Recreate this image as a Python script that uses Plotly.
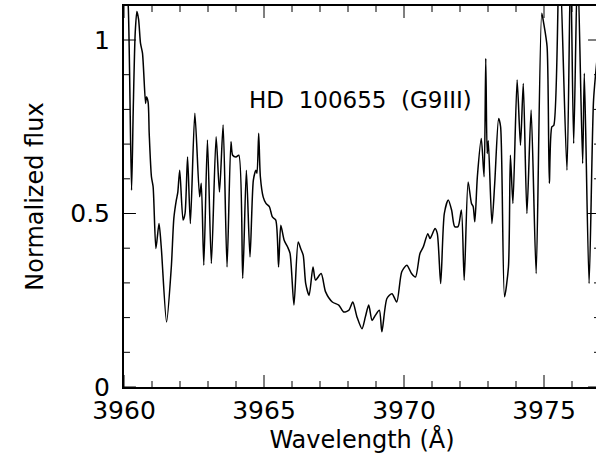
import plotly.graph_objects as go

wavelength = [
    3960.00, 3960.08, 3960.15, 3960.27, 3960.33, 3960.40, 3960.46, 3960.52, 3960.59, 3960.66,
    3960.77, 3960.80, 3960.86, 3960.90, 3960.98, 3961.04, 3961.14, 3961.25, 3961.33, 3961.52,
    3961.69, 3961.78, 3961.87, 3961.92, 3961.99, 3962.11, 3962.18, 3962.27, 3962.37, 3962.53,
    3962.70, 3962.76, 3962.85, 3962.98, 3963.12, 3963.29, 3963.41, 3963.54, 3963.68, 3963.82,
    3963.88, 3964.00, 3964.10, 3964.24, 3964.37, 3964.50, 3964.62, 3964.71, 3964.75, 3964.81,
    3964.87, 3964.97, 3965.07, 3965.19, 3965.30, 3965.42, 3965.52, 3965.60, 3965.72, 3965.84,
    3965.93, 3966.07, 3966.22, 3966.31, 3966.40, 3966.49, 3966.61, 3966.75, 3966.84, 3967.04,
    3967.20, 3967.44, 3967.67, 3967.85, 3968.03, 3968.17, 3968.32, 3968.50, 3968.62, 3968.74,
    3968.86, 3968.98, 3969.12, 3969.21, 3969.39, 3969.57, 3969.74, 3969.92, 3970.10, 3970.27,
    3970.41, 3970.57, 3970.69, 3970.85, 3970.93, 3971.11, 3971.19, 3971.31, 3971.44, 3971.58,
    3971.70, 3971.81, 3971.93, 3972.05, 3972.15, 3972.29, 3972.41, 3972.47, 3972.53, 3972.62,
    3972.76, 3972.86, 3972.92, 3972.97, 3973.01, 3973.14, 3973.24, 3973.38, 3973.45, 3973.59,
    3973.73, 3973.80, 3973.89, 3974.04, 3974.16, 3974.26, 3974.39, 3974.54, 3974.72, 3974.92,
    3974.99, 3975.11, 3975.19, 3975.28, 3975.35, 3975.55, 3975.82, 3975.95, 3976.06, 3976.20,
    3976.38, 3976.44, 3976.61, 3976.77, 3976.90,
]
flux = [
    1.20, 1.16, 1.10, 0.567, 0.80, 1.02, 1.082, 1.06, 0.99, 0.962,
    0.817, 0.836, 0.822, 0.731, 0.606, 0.577, 0.399, 0.471, 0.404, 0.187,
    0.346, 0.486, 0.539, 0.56, 0.625, 0.481, 0.500, 0.663, 0.471, 0.789,
    0.548, 0.587, 0.351, 0.712, 0.356, 0.721, 0.562, 0.755, 0.346, 0.707,
    0.668, 0.663, 0.668, 0.313, 0.625, 0.375, 0.596, 0.625, 0.616, 0.731,
    0.606, 0.548, 0.529, 0.520, 0.490, 0.481, 0.346, 0.466, 0.423, 0.404,
    0.385, 0.236, 0.418, 0.399, 0.380, 0.298, 0.264, 0.346, 0.308, 0.327,
    0.274, 0.245, 0.236, 0.216, 0.221, 0.245, 0.202, 0.168, 0.202, 0.236,
    0.192, 0.207, 0.221, 0.159, 0.255, 0.269, 0.245, 0.332, 0.351, 0.327,
    0.317, 0.385, 0.404, 0.442, 0.428, 0.457, 0.442, 0.298, 0.500, 0.539,
    0.510, 0.462, 0.462, 0.510, 0.308, 0.591, 0.529, 0.520, 0.476, 0.606,
    0.716, 0.606, 0.947, 0.673, 0.710, 0.471, 0.587, 0.774, 0.750, 0.260,
    0.346, 0.668, 0.529, 0.885, 0.697, 0.875, 0.500, 0.798, 0.327, 1.077,
    1.048, 0.981, 0.587, 0.750, 0.754, 1.25, 0.625, 1.22, 0.702, 1.22,
    0.644, 0.904, 0.298, 0.827, 0.95,
]

x_range = [3960, 3977]
y_range = [0, 1.098]
x_major = [3960, 3965, 3970, 3975]
x_minor = [v for v in range(3961, 3978) if v not in x_major]
y_major = [0, 0.5, 1.0]
y_minor = [0.1, 0.2, 0.3, 0.4, 0.6, 0.7, 0.8, 0.9]
star_label = "HD\u00a0\u00a0100655\u00a0\u00a0(G9III)"
x_title = "Wavelength (Å)"
y_title = "Normalized flux"

W, H = 602, 457
M = dict(l=124, r=0, t=6, b=70)
MAJOR_LEN, MINOR_LEN = 12, 6  # tick lengths in pixels

TICK_FONT = dict(family="DejaVu Sans", size=25, color="black")
TITLE_FONT = dict(family="DejaVu Sans", size=24, color="black")
ANNOT_FONT = dict(family="DejaVu Sans", size=23, color="black")

fig = go.Figure()
fig.add_trace(go.Scatter(x=wavelength, y=flux, mode="lines",
                         line=dict(color="black", width=1.5, shape="spline", smoothing=0.7),
                         showlegend=False))

fig.add_annotation(x=3968.45, y=0.827, xref="x", yref="y", text=star_label,
                   showarrow=False, font=ANNOT_FONT)

# inward tick marks on all four sides, placed through the axes' own scales
plot_w = W - M["l"] - M["r"]
plot_h = H - M["t"] - M["b"]
x_per_px = (x_range[1] - x_range[0]) / plot_w
y_per_px = (y_range[1] - y_range[0]) / plot_h
tick_line = dict(color="black", width=1)
for vals, length in ((x_major, MAJOR_LEN), (x_minor, MINOR_LEN)):
    dy = length * y_per_px
    for v in vals:
        fig.add_shape(type="line", xref="x", yref="y", x0=v, x1=v,
                      y0=y_range[0], y1=y_range[0] + dy, line=tick_line)
        fig.add_shape(type="line", xref="x", yref="y", x0=v, x1=v,
                      y0=y_range[1], y1=y_range[1] - dy, line=tick_line)
for vals, length in ((y_major, MAJOR_LEN), (y_minor, MINOR_LEN)):
    dx = length * x_per_px
    for v in vals:
        fig.add_shape(type="line", xref="x", yref="y", y0=v, y1=v,
                      x0=x_range[0], x1=x_range[0] + dx, line=tick_line)
        fig.add_shape(type="line", xref="x", yref="y", y0=v, y1=v,
                      x0=x_range[1], x1=x_range[1] - dx, line=tick_line)

fig.update_layout(
    width=W, height=H, margin=M,
    paper_bgcolor="white", plot_bgcolor="white",
    xaxis=dict(range=x_range, ticks="", showline=True, linecolor="black", linewidth=2,
               mirror=True, showgrid=False, zeroline=False,
               tickmode="array", tickvals=x_major,
               title=dict(text=x_title, standoff=4, font=TITLE_FONT), tickfont=TICK_FONT),
    yaxis=dict(range=y_range, ticks="", showline=True, linecolor="black", linewidth=2,
               mirror=True, showgrid=False, zeroline=False,
               tickmode="array", tickvals=y_major, ticktext=["0", "0.5", "1"],
               title=dict(text=y_title, standoff=20, font=TITLE_FONT), tickfont=TICK_FONT,
               ticklabelstandoff=7),
)

fig.write_html(
    "out.html", config={"displayModeBar": False},
    post_script="document.body.style.margin='0';document.body.style.overflow='hidden';",
)
